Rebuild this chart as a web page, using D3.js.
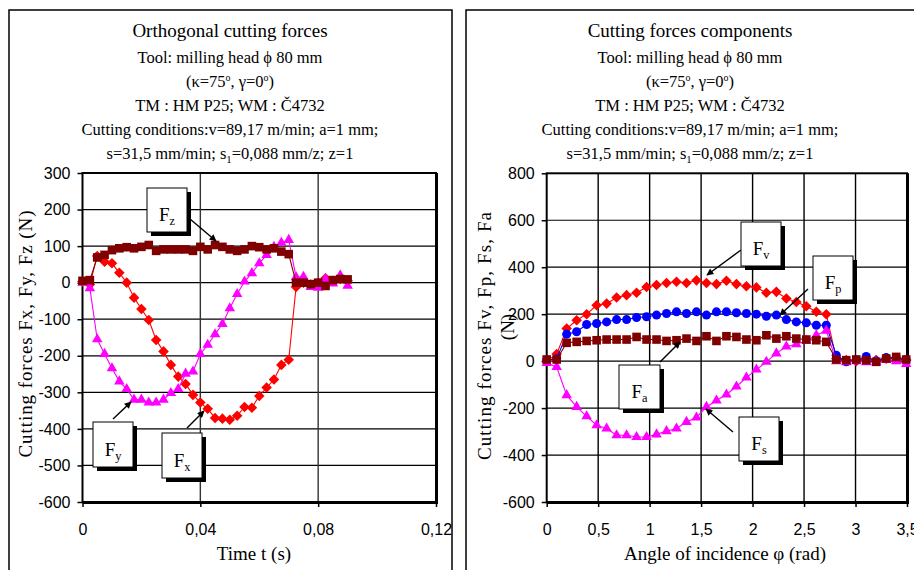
<!DOCTYPE html>
<html lang="en">
<head>
<meta charset="UTF-8">
<title>Cutting forces</title>
<script src="https://d3js.org/d3.v7.min.js"></script>
<style>
  body { margin: 0; background: #fff; }
  svg { display: block; }
  .serif { font-family: "Liberation Serif", "Times New Roman", serif; fill: #000; }
  .tick text { font-family: "Liberation Sans", Arial, sans-serif; font-size: 16px; fill: #000; }
  .tick line { stroke: #000; stroke-width: 1.5px; }
</style>
</head>
<body>
<div id="chart"></div>
<script>
// ---- left chart data: orthogonal cutting forces vs time
const timeS = [0, 0.0025, 0.005, 0.0075, 0.01, 0.0125, 0.015, 0.0175, 0.02, 0.0225,
  0.025, 0.0275, 0.03, 0.0325, 0.035, 0.0375, 0.04, 0.0425, 0.045, 0.0475,
  0.05, 0.0525, 0.055, 0.0575, 0.06, 0.0625, 0.065, 0.0675, 0.07, 0.0725,
  0.075, 0.0775, 0.08, 0.0825, 0.085, 0.0875, 0.09];
const fx = [3, -5, 73, 57, 53, 27, 0, -41, -72, -102, -157, -188, -225, -257, -277, -307, -328, -345,
  -370, -372, -375, -364, -340, -342, -310, -287, -265, -225, -211, -12, 0, -5, 0, 12, 5, 10, 5];
const fy = [0, -15, -155, -195, -234, -270, -291, -320, -320, -328, -328, -320, -302, -291, -249, -243,
  -195, -170, -141, -113, -70, -31, 3, 26, 53, 76, 98, 109, 117, 15, 16, -12, -14, 10, -2, 20, -8];
const fz = [5, 7, 69, 76, 89, 94, 97, 94, 98, 103, 87, 91, 91, 91, 91, 87, 98, 91, 103, 98, 91, 87,
  91, 100, 97, 91, 94, 85, 78, 0, 0, -4, 0, -9, 7, 10, 9];

// ---- right chart data: cutting force components vs angle of incidence
const angleRad = [0, 0.097, 0.194, 0.291, 0.388, 0.485, 0.582, 0.679, 0.776, 0.873,
  0.970, 1.067, 1.164, 1.261, 1.358, 1.455, 1.552, 1.649, 1.746, 1.843,
  1.940, 2.037, 2.134, 2.231, 2.328, 2.425, 2.522, 2.619, 2.716, 2.813,
  2.910, 3.007, 3.104, 3.201, 3.298, 3.395, 3.492];
const fv = [0, 30, 139, 174, 200, 238, 245, 271, 281, 291, 316, 324, 333, 338, 333, 344, 333, 328,
  342, 328, 319, 314, 291, 295, 267, 252, 234, 210, 200, 10, 5, 0, 10, 5, 10, 10, 5];
const fp = [5, 10, 115, 125, 156, 160, 167, 177, 177, 186, 189, 196, 203, 210, 203, 210, 196, 210,
  210, 206, 203, 200, 191, 196, 177, 167, 163, 153, 153, 25, -3, 5, 20, 0, 15, 15, 5];
const fs = [-8, -25, -145, -195, -235, -273, -287, -316, -316, -323, -323, -312, -298, -287, -259,
  -240, -195, -168, -142, -108, -70, -36, -3, 33, 62, 72, 87, 110, 130, 0, -5, 0, -5, -5, 5, 0, -12];
const fa = [7, 7, 78, 82, 86, 89, 92, 92, 92, 103, 92, 92, 86, 89, 96, 86, 106, 86, 106, 103, 92, 89,
  110, 96, 106, 96, 92, 89, 82, 7, 4, 7, 4, -3, 11, 18, 7];

// ---- ticks
const leftXTicks = [0, 0.04, 0.08, 0.12];
const leftXLabels = ["0", "0,04", "0,08", "0,12"];
const leftYTicks = [300, 200, 100, 0, -100, -200, -300, -400, -500, -600];
const rightXTicks = [0, 0.5, 1, 1.5, 2, 2.5, 3, 3.5];
const rightXLabels = ["0", "0,5", "1", "1,5", "2", "2,5", "3", "3,5"];
const rightYTicks = [800, 600, 400, 200, 0, -200, -400, -600];

const RED = "#ff0000", MAGENTA = "#ff00ff", MAROON = "#800000", BLUE = "#0000ff";

const svg = d3.select("#chart").append("svg").attr("width", 914).attr("height", 570);

svg.append("defs").append("marker")
  .attr("id", "arrow")
  .attr("viewBox", "0 0 10 10")
  .attr("refX", 9).attr("refY", 5)
  .attr("markerWidth", 8).attr("markerHeight", 7)
  .attr("markerUnits", "userSpaceOnUse")
  .attr("orient", "auto")
  .append("path").attr("d", "M0,0L10,5L0,10Z").attr("fill", "#000");

const symbols = {
  diamond: { path: d3.symbol(d3.symbolSquare, 56)(), rotate: 45 },
  triangle: { path: d3.symbol(d3.symbolTriangle, 48)(), rotate: 0 },
  square: { path: d3.symbol(d3.symbolSquare, 74)(), rotate: 0 },
  circle: { path: d3.symbol(d3.symbolCircle, 64)(), rotate: 0 }
};

function addText(g, x, y, parts, size, anchor) {
  const t = g.append("text").attr("class", "serif")
    .attr("x", x).attr("y", y)
    .attr("text-anchor", anchor || "middle")
    .style("font-size", size + "px");
  parts.forEach(p => {
    const s = t.append("tspan").text(p[0]);
    if (p[1] === "sub") s.attr("dy", 4).style("font-size", (size * 0.65) + "px");
    if (p[1] === "sup") s.attr("dy", -6).style("font-size", (size * 0.6) + "px");
    if (p[1] === "back-sub") s.attr("dy", -4);
    if (p[1] === "back-sup") s.attr("dy", 6);
  });
  return t;
}

function drawPanel(cfg) {
  const g = svg.append("g");

  // outer frame
  g.append("rect")
    .attr("x", cfg.frame[0]).attr("y", cfg.frame[1])
    .attr("width", cfg.frame[2]).attr("height", cfg.frame[3])
    .attr("fill", "#fff").attr("stroke", "#000").attr("stroke-width", 1.5);

  // title block
  const cx = cfg.titleX;
  addText(g, cx, 37, [[cfg.title]], 19);
  addText(g, cx, 63, [["Tool: milling head \u03d5 80 mm"]], 16.5);
  addText(g, cx, 87, [["(\u03ba=75"], ["o", "sup"], [", \u03b3=0", "back-sup"], ["o", "sup"], [")", "back-sup"]], 16.5);
  addText(g, cx, 111, [["TM : HM P25; WM : \u010c4732"]], 16.5);
  addText(g, cx, 135, [["Cutting conditions:v=89,17 m/min; a=1 mm;"]], 16.5);
  addText(g, cx, 159, [["s=31,5 mm/min; s"], ["1", "sub"], ["=0,088 mm/z; z=1", "back-sub"]], 16.5);

  const x = d3.scaleLinear().domain(cfg.xDomain).range([cfg.plot.left, cfg.plot.right]);
  const y = d3.scaleLinear().domain(cfg.yDomain).range([cfg.plot.bottom, cfg.plot.top]);

  // grid
  g.append("g").selectAll("line").data(cfg.yTicks.slice(1, -1)).join("line")
    .attr("x1", cfg.plot.left).attr("x2", cfg.plot.right)
    .attr("y1", d => y(d)).attr("y2", d => y(d))
    .attr("stroke", "#000").attr("stroke-width", 1.2);
  g.append("g").selectAll("line").data(cfg.xTicks.slice(1, -1)).join("line")
    .attr("x1", d => x(d)).attr("x2", d => x(d))
    .attr("y1", cfg.plot.top).attr("y2", cfg.plot.bottom)
    .attr("stroke", cfg.vGridColor).attr("stroke-width", 1.4);

  // plot border (heavier right / bottom)
  g.append("rect")
    .attr("x", cfg.plot.left).attr("y", cfg.plot.top)
    .attr("width", cfg.plot.right - cfg.plot.left).attr("height", cfg.plot.bottom - cfg.plot.top)
    .attr("fill", "none").attr("stroke", "#000").attr("stroke-width", 2);
  g.append("path")
    .attr("d", `M${cfg.plot.right + 1},${cfg.plot.top} V${cfg.plot.bottom + 1} H${cfg.plot.left}`)
    .attr("fill", "none").attr("stroke", "#000").attr("stroke-width", 2);

  // axes
  const ya = g.append("g").attr("transform", `translate(${cfg.plot.left},0)`)
    .call(d3.axisLeft(y).tickValues(cfg.yTicks).tickSize(5).tickPadding(7).tickFormat(d => String(d)));
  ya.select(".domain").remove();
  const xa = g.append("g").attr("transform", `translate(0,${cfg.plot.bottom})`)
    .call(d3.axisBottom(x).tickValues(cfg.xTicks).tickSize(5).tickPadding(17)
      .tickFormat((d, i) => cfg.xLabels[i]));
  xa.select(".domain").remove();

  // axis titles
  addText(g, cfg.xTitle[1], 560, [[cfg.xTitle[0]]], 19);
  cfg.yTitle.forEach(t => {
    g.append("text").attr("class", "serif")
      .attr("transform", `translate(${t.x},${t.y}) rotate(-90)`)
      .attr("text-anchor", "middle")
      .style("font-size", "19px")
      .attr("textLength", t.len || null)
      .attr("lengthAdjust", "spacing")
      .text(t.text);
  });

  // series
  const line = d3.line().x(d => x(d[0])).y(d => y(d[1]));
  cfg.series.forEach(s => {
    const pts = cfg.xValues.map((v, i) => [v, s.values[i]]);
    g.append("path").attr("d", line(pts))
      .attr("fill", "none").attr("stroke", s.color).attr("stroke-width", 1.1);
    const sym = symbols[s.symbol];
    g.append("g").selectAll("path").data(pts).join("path")
      .attr("d", sym.path)
      .attr("transform", d => `translate(${x(d[0])},${y(d[1])}) rotate(${sym.rotate})`)
      .attr("fill", s.color);
  });

  // callouts
  cfg.callouts.forEach(c => {
    g.append("line")
      .attr("x1", c.from[0]).attr("y1", c.from[1])
      .attr("x2", c.to[0]).attr("y2", c.to[1])
      .attr("stroke", "#000").attr("stroke-width", 1.4)
      .attr("marker-end", "url(#arrow)");
    g.append("rect").attr("x", c.box[0] + 4).attr("y", c.box[1] + 4)
      .attr("width", c.box[2]).attr("height", c.box[3]).attr("fill", "#000");
    g.append("rect").attr("x", c.box[0]).attr("y", c.box[1])
      .attr("width", c.box[2]).attr("height", c.box[3])
      .attr("fill", "#fff").attr("stroke", "#000").attr("stroke-width", 1);
    addText(g, c.box[0] + c.box[2] / 2, c.box[1] + c.box[3] * 0.75, [["F"], [c.sub, "sub"]], 19);
  });
}

drawPanel({
  frame: [9, 10, 443, 580],
  titleX: 230,
  title: "Orthogonal cutting forces",
  plot: { left: 82.5, right: 436, top: 173, bottom: 502 },
  xDomain: [0, 0.12], yDomain: [-600, 300],
  xTicks: leftXTicks, xLabels: leftXLabels, yTicks: leftYTicks,
  vGridColor: "#333",
  xTitle: ["Time t (s)", 254],
  yTitle: [{ text: "Cutting forces Fx, Fy, Fz (N)", x: 32, y: 334, len: 247 }],
  xValues: timeS,
  series: [
    { values: fx, color: RED, symbol: "diamond" },
    { values: fy, color: MAGENTA, symbol: "triangle" },
    { values: fz, color: MAROON, symbol: "square" }
  ],
  callouts: [
    { box: [147, 188, 40, 44], sub: "z", from: [190, 219], to: [216, 241] },
    { box: [93, 422, 40, 45], sub: "y", from: [113, 419], to: [131, 402] },
    { box: [162, 433, 40, 45], sub: "x", from: [187, 428], to: [204, 411] }
  ]
});

drawPanel({
  frame: [466, 10, 470, 580],
  titleX: 690,
  title: "Cutting forces components",
  plot: { left: 546.7, right: 907, top: 173.3, bottom: 502 },
  xDomain: [0, 3.5], yDomain: [-600, 800],
  xTicks: rightXTicks, xLabels: rightXLabels, yTicks: rightYTicks,
  vGridColor: "#000",
  xTitle: ["Angle of incidence \u03c6 (rad)", 725],
  yTitle: [
    { text: "Cutting forces Fv, Fp, Fs, Fa", x: 491, y: 336, len: 248 },
    { text: "(N)", x: 514, y: 327 }
  ],
  xValues: angleRad,
  series: [
    { values: fv, color: RED, symbol: "diamond" },
    { values: fp, color: BLUE, symbol: "circle" },
    { values: fs, color: MAGENTA, symbol: "triangle" },
    { values: fa, color: MAROON, symbol: "square" }
  ],
  callouts: [
    { box: [741, 222, 40, 44], sub: "v", from: [741, 250], to: [707, 275] },
    { box: [813, 256, 40, 44], sub: "p", from: [808, 289], to: [780, 315] },
    { box: [619, 365, 41, 44], sub: "a", from: [660, 362], to: [680, 342] },
    { box: [739, 417, 40, 44], sub: "s", from: [733, 432], to: [706, 409] }
  ]
});
</script>
</body>
</html>
